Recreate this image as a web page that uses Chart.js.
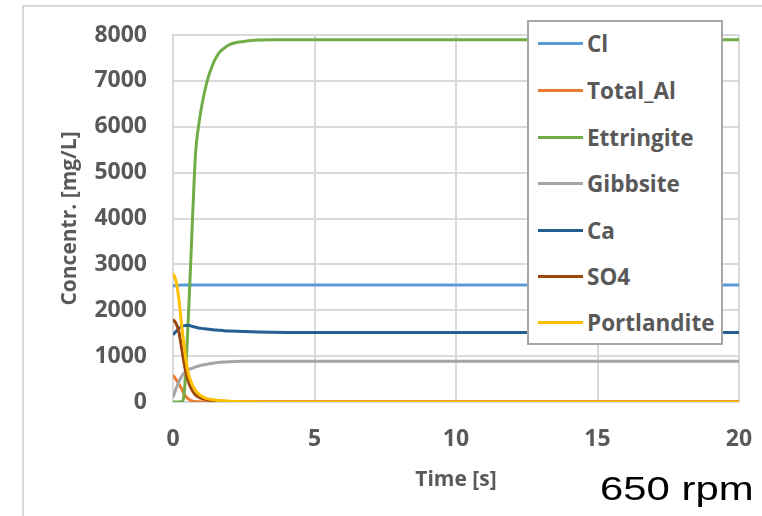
<!DOCTYPE html>
<html>
<head>
<meta charset="utf-8">
<script src="https://cdn.jsdelivr.net/npm/chart.js@4/dist/chart.umd.min.js"></script>
<style>
  html, body { margin: 0; padding: 0; background: #fff; }
  #wrap { position: relative; width: 762px; height: 516px; overflow: hidden; }
  #frame { position: absolute; left: 22px; top: 5px; right: -10px; bottom: -10px;
           border-top: 2px solid #d9d9d9; border-left: 2px solid #d9d9d9; }
  #legend { position: absolute; left: 527px; top: 20px; width: 192px; height: 321px;
            background: #fff; border: 2px solid #a6a6a6; }
  .item { position: absolute; left: 0; height: 40px; display: flex; align-items: center;
          font: bold 22.5px "Open Sans", sans-serif; color: #595959; white-space: nowrap; }
  .swatch { width: 45px; height: 3px; margin-left: 9px; margin-right: 4px; }
  #rpm { position: absolute; left: 600px; top: 472px; font: 33px "Liberation Sans", Arial, sans-serif;
         line-height: 33px; color: #000; transform: scaleX(1.27); transform-origin: left top; white-space: nowrap; }
</style>
</head>
<body>
<div id="wrap">
  <canvas id="c" width="762" height="516"></canvas>
  <div id="frame"></div>
  <div id="legend"></div>
  <div id="rpm">650 rpm</div>
</div>
<script>
// Simulation output: concentrations in mg/L versus time in seconds
const time = [0, 0.1, 0.2, 0.3, 0.35, 0.4, 0.45, 0.5, 0.55, 0.6, 0.7, 0.8, 0.9, 1.0,
              1.2, 1.4, 1.6, 1.8, 2.0, 2.5, 3, 3.5, 4, 5, 6, 8, 10, 12, 14, 16, 18, 20];

const cl          = [2530, 2540, 2545, 2550, 2550, 2550, 2550, 2550, 2550, 2550, 2550, 2550, 2550, 2550,
                     2550, 2550, 2550, 2550, 2550, 2550, 2550, 2550, 2550, 2550, 2550, 2550, 2550, 2550, 2550, 2550, 2550, 2550];
const totalAl     = [580, 500, 400, 290, 220, 170, 125, 90, 65, 42, 18, 8, 4, 2,
                     0, 0, 0, 0, 0, 0, 0, 0, 0, 0, 0, 0, 0, 0, 0, 0, 0, 0];
const ettringite  = [0, 0, 0, 10, 30, 220, 700, 1300, 1950, 2650, 4150, 5450, 6000, 6400,
                     6980, 7350, 7590, 7710, 7790, 7860, 7890, 7895, 7895, 7895, 7895, 7895, 7895, 7895, 7895, 7895, 7895, 7895];
const gibbsite    = [100, 280, 430, 550, 600, 635, 665, 690, 705, 720, 740, 765, 785, 800,
                     825, 845, 862, 873, 880, 887, 890, 890, 890, 888, 887, 886, 886, 886, 886, 886, 886, 886];
const ca          = [1470, 1530, 1600, 1640, 1655, 1665, 1670, 1672, 1670, 1665, 1645, 1630, 1615, 1605,
                     1590, 1575, 1565, 1555, 1548, 1535, 1525, 1520, 1517, 1515, 1515, 1515, 1515, 1515, 1515, 1515, 1515, 1515];
const so4         = [1800, 1720, 1550, 1190, 1000, 820, 660, 530, 430, 350, 230, 150, 110, 80,
                     50, 33, 22, 15, 10, 4, 0, 0, 0, 0, 0, 0, 0, 0, 0, 0, 0, 0];
const portlandite = [2800, 2650, 2280, 1700, 1440, 1200, 950, 750, 600, 500, 350, 250, 180, 130,
                     75, 50, 35, 25, 18, 8, 3, 0, 0, 0, 0, 0, 0, 0, 0, 0, 0, 0];

const seriesNames  = ['Cl', 'Total_Al', 'Ettringite', 'Gibbsite', 'Ca', 'SO4', 'Portlandite'];
const seriesValues = [cl, totalAl, ettringite, gibbsite, ca, so4, portlandite];
const seriesColors = ['#5B9BD5', '#ED7D31', '#70AD47', '#A5A5A5', '#255E91', '#9E480E', '#FFC000'];

const xTicks = [0, 5, 10, 15, 20];
const yTicks = [0, 1000, 2000, 3000, 4000, 5000, 6000, 7000, 8000];

// series later in the list are painted on top
const datasets = seriesNames.map((name, i) => ({
  label: name,
  data: time.map((t, k) => ({ x: t, y: seriesValues[i][k] })),
  borderColor: seriesColors[i],
  backgroundColor: seriesColors[i],
  borderWidth: 3,
  pointRadius: 0,
  cubicInterpolationMode: 'monotone',
  fill: false,
  order: seriesNames.length - i
}));

const tickFont = { family: '"Open Sans", sans-serif', size: 23, weight: 'bold' };
const titleFont = { family: '"Open Sans", sans-serif', size: 21, weight: 'bold' };
const gridStyle = { color: '#d9d9d9', lineWidth: 2, drawTicks: false };

// keep the plot rectangle fixed: no extra room for overhanging tick labels
const noOverhang = s => { s.paddingLeft = 0; s.paddingRight = 0; s.paddingTop = 0; s.paddingBottom = 0; };

const chart = new Chart(document.getElementById('c'), {
  type: 'line',
  data: { datasets },
  options: {
    responsive: false,
    animation: false,
    devicePixelRatio: 1,
    layout: { padding: { left: 0, right: 23, top: 35, bottom: 0 } },
    plugins: { legend: { display: false }, tooltip: { enabled: false } },
    scales: {
      x: {
        type: 'linear',
        min: xTicks[0], max: xTicks[xTicks.length - 1],
        afterBuildTicks: s => { s.ticks = xTicks.map(v => ({ value: v })); },
        afterFit: s => { s.height = 114; noOverhang(s); },
        grid: gridStyle,
        border: { color: '#d9d9d9', width: 2 },
        ticks: { font: tickFont, color: '#595959', padding: 24, maxRotation: 0,
                 callback: v => String(v) },
        title: { display: true, text: 'Time [s]', font: titleFont, color: '#595959',
                 padding: { top: 0, bottom: 23 } }
      },
      y: {
        type: 'linear',
        min: yTicks[0], max: yTicks[yTicks.length - 1],
        afterBuildTicks: s => { s.ticks = yTicks.map(v => ({ value: v })); },
        afterFit: s => { s.width = 173; noOverhang(s); },
        grid: gridStyle,
        border: { color: '#d9d9d9', width: 2 },
        ticks: { font: tickFont, color: '#595959', padding: 26, callback: v => String(v) },
        title: { display: true, text: 'Concentr. [mg/L]', font: titleFont, color: '#595959',
                 padding: { top: 57, bottom: 0 } }
      }
    }
  }
});

// legend box built from the chart's own datasets
const legend = document.getElementById('legend');
const rowCenters = [21.5, 68.5, 115, 161.5, 208, 254.5, 300.5];
chart.data.datasets.forEach((ds, i) => {
  const row = document.createElement('div');
  row.className = 'item';
  row.style.top = (rowCenters[i] - 20) + 'px';
  const sw = document.createElement('span');
  sw.className = 'swatch';
  sw.style.background = ds.borderColor;
  const txt = document.createElement('span');
  txt.textContent = ds.label;
  row.appendChild(sw);
  row.appendChild(txt);
  legend.appendChild(row);
});
</script>
</body>
</html>
